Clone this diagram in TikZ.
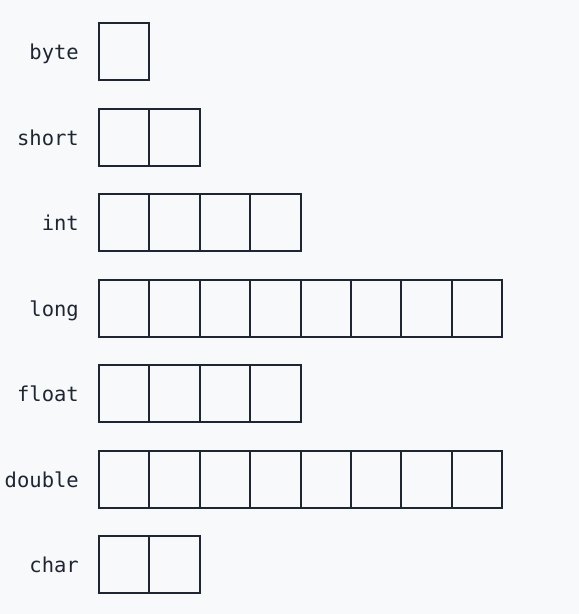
\documentclass[tikz,border=0pt]{standalone}
\usepackage{fontspec}
\setmonofont{DejaVu Sans Mono}
\definecolor{bg}{HTML}{F8F9FB}
\definecolor{ink}{HTML}{1E2633}
\begin{document}
\begin{tikzpicture}[x=1pt,y=-1pt,
  cell/.style={draw=ink,line width=2pt,minimum width=50.4pt,minimum height=57pt,inner sep=0pt,outer sep=0pt},
  lab/.style={text=ink,font=\ttfamily\fontsize{20.5}{24}\selectfont,anchor=base east,inner sep=0pt}]
\fill[bg] (0,0) rectangle (579,614);
\useasboundingbox (0,0) rectangle (579,614);
\foreach \name/\n [count=\i from 0] in {byte/1,short/2,int/4,long/8,float/4,double/8,char/2}{
  \pgfmathsetmacro{\yy}{51.5+85.5*\i}
  \node[lab] (L\name) at (79,\yy+8) {\name};
  \foreach \k in {1,...,\n}{
    \node[cell] (\name\k) at ({99+50.4*(\k-0.5)},\yy) {};
  }
}
\end{tikzpicture}
\end{document}
